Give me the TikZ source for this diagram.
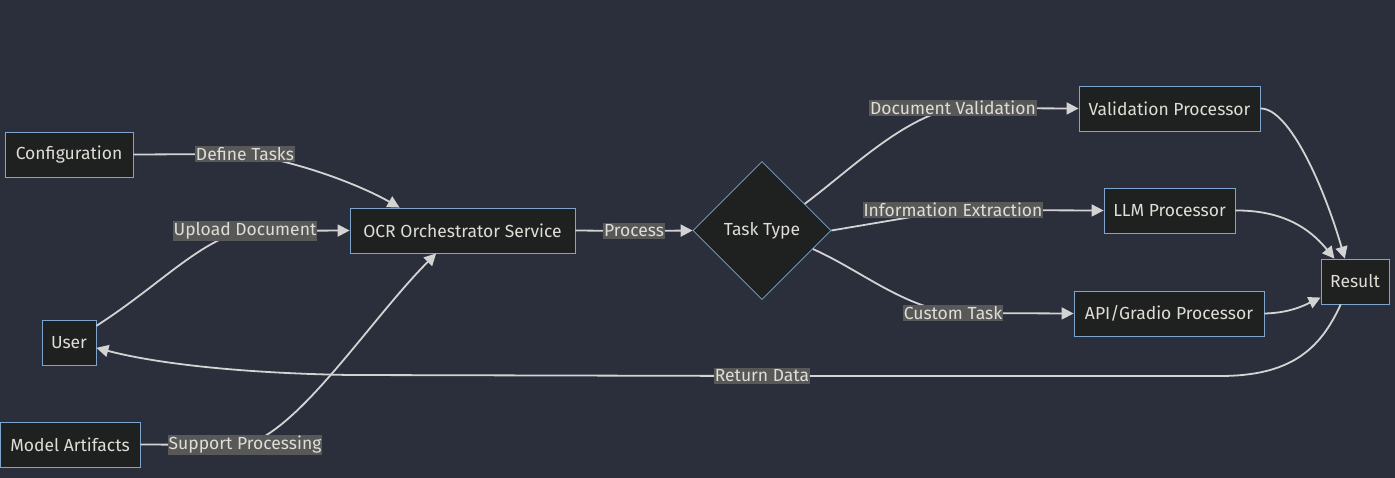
\documentclass[tikz,border=0pt]{standalone}
\usepackage{fontspec}
\setmainfont{Fira Sans}
\usetikzlibrary{shapes.geometric, arrows.meta}

\definecolor{bgcol}{RGB}{42,47,59}
\definecolor{boxfill}{RGB}{31,32,32}
\definecolor{boxline}{RGB}{125,165,205}
\definecolor{edgecol}{RGB}{211,211,211}
\definecolor{lblfill}{RGB}{88,88,88}
\definecolor{txtcol}{RGB}{222,222,214}

\tikzset{
  procbox/.style={draw=boxline, fill=boxfill, text=txtcol, line width=0.8pt,
    inner xsep=2pt, minimum height=45pt, font=\fontsize{17.5}{20}\selectfont},
  decide/.style={diamond, draw=boxline, fill=boxfill, text=txtcol, line width=0.8pt,
    minimum width=138pt, minimum height=138pt, inner sep=0pt, font=\fontsize{17.5}{20}\selectfont},
  edgelbl/.style={fill=lblfill, text=txtcol, inner xsep=1pt, inner ysep=1.5pt,
    font=\fontsize{17.5}{20}\selectfont},
  flow/.style={draw=edgecol, line width=1.8pt, -{Triangle[length=12pt,width=12pt]}},
}

\begin{document}
\begin{tikzpicture}[x=1pt, y=-1pt]
      % 1. 背景與畫布大小
      \useasboundingbox (0,0) rectangle (1395,478);
      \fill[bgcol] (0,0) rectangle (1395,478);

      % 2. 左側的輸入節點
      \node[procbox, minimum width=128pt] (cfg) at (69,154.5) {Configuration};
      \node[procbox, minimum width=54pt] (user) at (69,343) {User};
      \node[procbox, minimum width=140pt] (art) at (70,444.5) {Model Artifacts};

      % 3. 中間的服務與判斷
      \node[procbox, minimum width=225pt] (ocr) at (462.5,230.5) {OCR Orchestrator Service};
      \node[decide] (task) at (762,230.5) {Task Type};

      % 4. 右側的處理器與結果
      \node[procbox, minimum width=181pt] (val) at (1169.5,108.5) {Validation Processor};
      \node[procbox, minimum width=131pt] (llm) at (1169.5,210.5) {LLM Processor};
      \node[procbox, minimum width=190pt] (api) at (1169,313.5) {API/Gradio Processor};
      \node[procbox, minimum width=68pt] (res) at (1355,281.5) {Result};

      % 5. 邊上文字的位置
      \coordinate (defT) at (245,154);
      \coordinate (upT) at (245,231);
      \coordinate (supT) at (245,445);
      \coordinate (procT) at (634,231);
      \coordinate (docT) at (953,108);
      \coordinate (infT) at (953,210);
      \coordinate (cusT) at (953,313);
      \coordinate (retT) at (762,376);

      % 6. 連線
      \draw[flow] (cfg.east) -- (defT) .. controls (300,162) and (360,185) .. (ocr.160);
      \draw[flow] (user.32) .. controls (160,285) and (200,240) .. (upT) -- (ocr.west);
      \draw[flow] (art.east) -- (supT) .. controls (300,430) and (370,320) .. (ocr.-139);
      \draw[flow] (ocr.east) -- (procT) -- (task.west);
      \draw[flow] (task.32) .. controls (850,170) and (900,120) .. (docT) -- (val.west);
      \draw[flow] (task.east) -- (infT) -- (llm.west);
      \draw[flow] (task.-20) .. controls (860,270) and (900,305) .. (cusT) -- (api.west);
      \draw[flow] (val.east) .. controls (1290,108) and (1325,190) .. (res.114);
      \draw[flow] (llm.east) .. controls (1290,210) and (1315,235) .. (res.132);
      \draw[flow] (api.east) .. controls (1290,313) and (1305,305) .. (res.-155);
      \draw[flow] (res.-122) .. controls (1320,350) and (1290,376) .. (1220,376)
        -- (retT) -- (350,375) .. controls (230,373) and (150,362) .. (user.-10);

      % 7. 邊上的文字
      \node[edgelbl] (lblDef) at (defT) {Define Tasks};
      \node[edgelbl] (lblUp) at (upT) {Upload Document};
      \node[edgelbl] (lblSup) at (supT) {Support Processing};
      \node[edgelbl] (lblProc) at (procT) {Process};
      \node[edgelbl] (lblDoc) at (docT) {Document Validation};
      \node[edgelbl] (lblInf) at (infT) {Information Extraction};
      \node[edgelbl] (lblCus) at (cusT) {Custom Task};
      \node[edgelbl] (lblRet) at (retT) {Return Data};
\end{tikzpicture}
\end{document}
